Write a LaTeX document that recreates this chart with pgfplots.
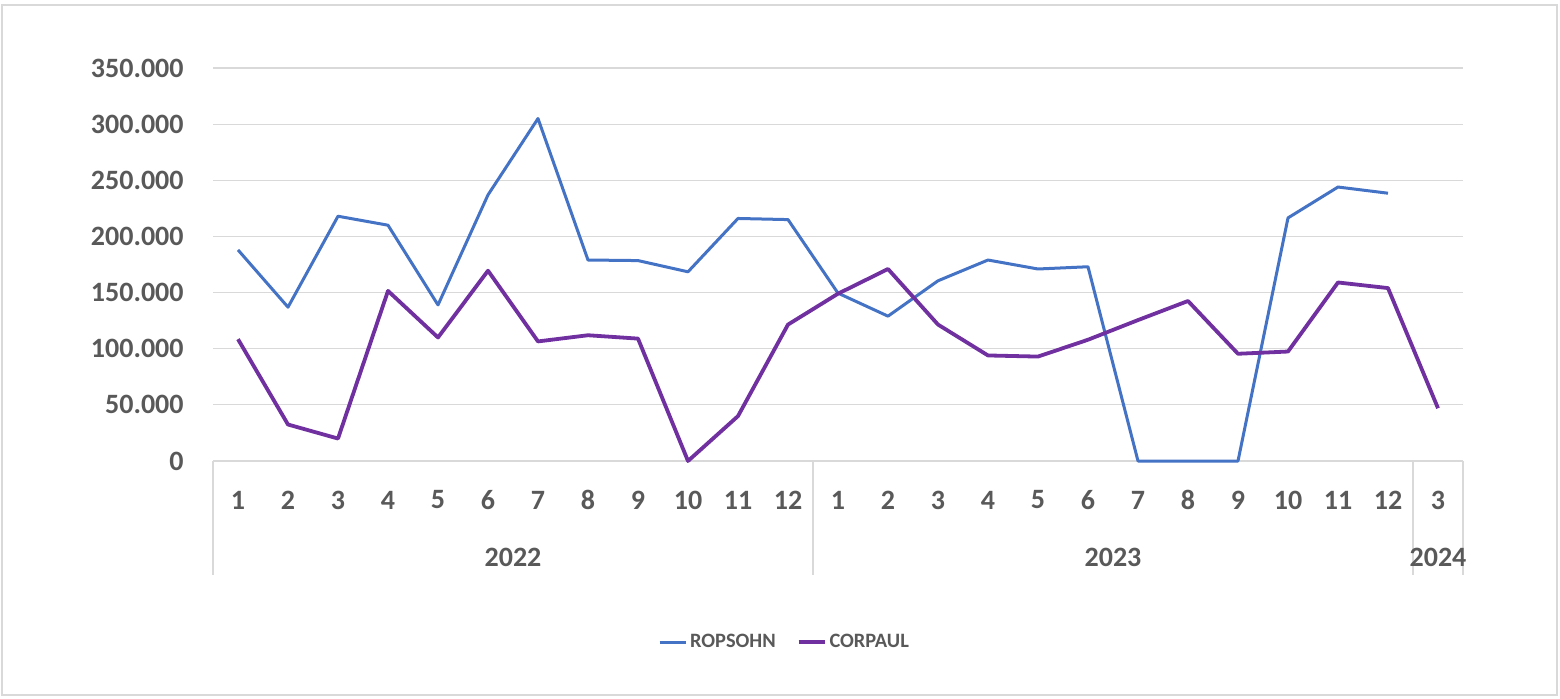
\documentclass[border=0pt]{standalone}
\usepackage{fontspec}
\setmainfont{Carlito}
\usepackage{pgfplots}
\pgfplotsset{compat=1.18}
\definecolor{ropblue}{HTML}{4472C4}
\definecolor{corpurple}{HTML}{7030A0}
\definecolor{txtgray}{HTML}{595959}
\definecolor{gridgray}{HTML}{D9D9D9}
\begin{document}
\begin{tikzpicture}
\useasboundingbox (0,0) rectangle (780pt,349pt);
\draw[gridgray, line width=0.6pt] (1pt,1.5pt) rectangle (778.5pt,346.5pt);
\begin{axis}[
  at={(106.5pt,118.5pt)}, anchor=south west,
  scale only axis, width=625pt, height=196.5pt,
  xmin=0.5, xmax=25.5, ymin=0, ymax=350000,
  xtick={1,...,25},
  xticklabels={1,2,3,4,5,6,7,8,9,10,11,12,1,2,3,4,5,6,7,8,9,10,11,12,3},
  ytick={0,50000,100000,150000,200000,250000,300000,350000},
  yticklabels={0,50.000,100.000,150.000,200.000,250.000,300.000,350.000},
  scaled y ticks=false,
  major tick length=0pt,
  axis line style={draw=none},
  ymajorgrids, grid style={gridgray, line width=0.6pt},
  tick label style={font=\fontsize{14}{16}\selectfont\bfseries, text=txtgray},
  xticklabel style={anchor=center, yshift=-19.5pt},
  yticklabel style={anchor=east, inner sep=0pt, xshift=-14.5pt},
  clip=false,
  legend columns=2,
  legend style={at={(0.4576,0)}, anchor=center, yshift=-90.5pt, draw=none,
    font=\fontsize{10.2}{12}\selectfont\bfseries, text=txtgray,
    nodes={inner sep=1.5pt},
    /tikz/every even column/.append style={column sep=9pt}},
  legend image code/.code={\draw[#1] (0pt,0pt) -- (13pt,0pt);},
]
\addplot[ropblue, line width=1.5pt, line join=round] coordinates {
(1,188000) (2,137000) (3,218000) (4,210000) (5,139000) (6,237000)
(7,305000) (8,179000) (9,178500) (10,168500) (11,216000) (12,215000)
(13,149500) (14,129000) (15,160500) (16,179000) (17,171000) (18,173000)
(19,0) (20,0) (21,0) (22,216500) (23,244000) (24,238500)
};
\addlegendentry{ROPSOHN}
\addplot[corpurple, line width=1.9pt, line join=round] coordinates {
(1,108500) (2,32500) (3,20000) (4,151500) (5,110000) (6,169500)
(7,106500) (8,112000) (9,109000) (10,0) (11,40000) (12,121500)
(13,149000) (14,171000) (15,121500) (16,94000) (17,93000) (18,108000)
(19,125500) (20,142500) (21,95500) (22,97500) (23,159000) (24,154000)
(25,47000)
};
\addlegendentry{CORPAUL}
\draw[gridgray, line width=0.6pt] (axis cs:0.5,0) -- ++(0pt,-57pt);
\draw[gridgray, line width=0.6pt] (axis cs:12.5,0) -- ++(0pt,-57pt);
\draw[gridgray, line width=0.6pt] (axis cs:24.5,0) -- ++(0pt,-57pt);
\draw[gridgray, line width=0.6pt] (axis cs:25.5,0) -- ++(0pt,-57pt);
\node[font=\fontsize{14}{16}\selectfont\bfseries, text=txtgray] at ([yshift=-48pt]axis cs:6.5,0) {2022};
\node[font=\fontsize{14}{16}\selectfont\bfseries, text=txtgray] at ([yshift=-48pt]axis cs:18.5,0) {2023};
\node[font=\fontsize{14}{16}\selectfont\bfseries, text=txtgray] at ([yshift=-48pt]axis cs:25,0) {2024};
\end{axis}
\end{tikzpicture}
\end{document}
